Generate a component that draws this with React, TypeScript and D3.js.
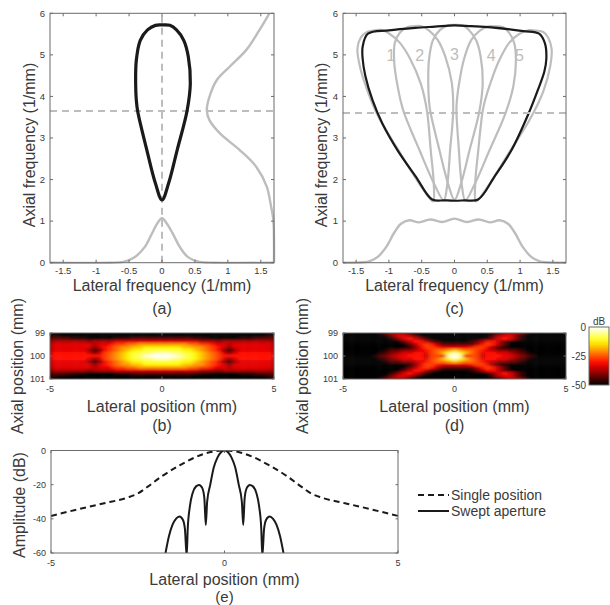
import React from "react";
import * as d3 from "d3";

type Pt = [number, number];

// (a) single transmit position: k-space support outline (lateral, axial) in 1/mm
const singleOutline: Pt[] = [
  [0.0, 1.51], [0.1, 1.91], [0.23, 2.71], [0.38, 3.65], [0.43, 4.31], [0.4, 4.95],
  [0.33, 5.35], [0.22, 5.6], [0.12, 5.71], [0.0, 5.72], [-0.1, 5.71], [-0.22, 5.6],
  [-0.33, 5.35], [-0.39, 4.87], [-0.4, 4.31], [-0.39, 3.91], [-0.37, 3.65], [-0.23, 2.71],
  [-0.1, 1.91],
];
// lateral profile drawn along the bottom (lateral, amplitude)
const singleLateralProfile: Pt[] = [
  [-1.7, 0], [-0.8, 0], [-0.59, 0.02], [-0.41, 0.14], [-0.26, 0.38], [-0.15, 0.71],
  [-0.07, 0.95], [0, 1.07], [0.07, 0.95], [0.16, 0.71], [0.27, 0.38], [0.39, 0.14],
  [0.57, 0.02], [0.8, 0], [1.7, 0],
];
// axial profile drawn along the right side (lateral, axial)
const singleAxialProfile: Pt[] = [
  [1.7, 0], [1.7, 0.5], [1.69, 1.03], [1.65, 1.4], [1.59, 1.83], [1.43, 2.31],
  [1.18, 2.71], [0.88, 3.11], [0.72, 3.43], [0.68, 3.67], [0.72, 3.99], [0.83, 4.39],
  [1.03, 4.72], [1.28, 5.12], [1.48, 5.6], [1.63, 6.0],
];
const singleCutAxial = 3.65;

// (c) swept aperture: steering angles (deg) of the five sub-apertures
const steerAngles = [-12.5, -6.25, 0, 6.25, 12.5];
const steerLabels = ["1", "2", "3", "4", "5"];
const steerLabelPos: Pt[] = [[-0.97, 4.99], [-0.53, 4.99], [0, 5.03], [0.56, 4.99], [0.99, 4.99]];
const sweptOutline: Pt[] = [
  [-0.34, 1.52], [-0.15, 1.5], [0, 1.49], [0.15, 1.5], [0.36, 1.52], [0.61, 2.07],
  [0.87, 2.71], [1.13, 3.59], [1.27, 4.15], [1.37, 4.6], [1.4, 4.9], [1.38, 5.27],
  [1.29, 5.51], [1.05, 5.57], [0.56, 5.66], [0.25, 5.69], [0, 5.71], [-0.3, 5.68],
  [-0.6, 5.65], [-1.0, 5.59], [-1.32, 5.51], [-1.4, 5.2], [-1.4, 4.9], [-1.36, 4.5],
  [-1.25, 3.91], [-1.1, 3.35], [-0.87, 2.71], [-0.59, 2.07],
];
const sweptLateralProfile: Pt[] = [
  [-1.7, 0], [-1.4, 0.01], [-1.29, 0.04], [-1.17, 0.14], [-1.04, 0.38], [-0.92, 0.72],
  [-0.82, 0.93], [-0.69, 1.02], [-0.54, 0.97], [-0.37, 1.04], [-0.19, 0.98], [0, 1.06],
  [0.19, 0.98], [0.37, 1.04], [0.54, 0.97], [0.69, 1.02], [0.82, 0.93], [0.92, 0.72],
  [1.04, 0.38], [1.17, 0.14], [1.29, 0.04], [1.4, 0.01], [1.7, 0],
];
const sweptCutAxial = 3.6;

const freqTicks = [-1.5, -1, -0.5, 0, 0.5, 1, 1.5];
const axialFreqTicks = [0, 1, 2, 3, 4, 5, 6];

// (b), (d) point spread functions, dB levels in hex 0 (-50 dB) .. f (0 dB)
// columns: lateral -5..5 mm, rows: axial 99..101 mm
const psfSingleRows = [
  "00000000000000000000000000000000000000000",
  "11000000000000000000000000000000000000011",
  "22221110000011122222222222111000001112222",
  "34444443444455555555555555544434444444443",
  "45555555455677889999999998877655455555554",
  "455555553567899aabbbbbbbaa998765355555554",
  "45555553136789abbcccccccbba98763135555554",
  "5666666535789abccddeeeddccba9875356666665",
  "5666666666789abcdefffffedcba9876666666665",
  "5666666535789abccddeeeddccba9875356666665",
  "45555553136789abbcccccccbba98763135555554",
  "455555553567899aabbbbbbbaa998765355555554",
  "45555555455677889999999998877655455555554",
  "34444443444455555555555555544434444444443",
  "22221110000011122222222222111000001112222",
  "11000000000000000000000000000000000000011",
  "00000000000000000000000000000000000000000",
];
const psfSweptRows = [
  "00000001344310000000000000001344310000000",
  "00000000135542000000000000024553100000000",
  "00000000013565310000000000135653100000000",
  "00000000000246642100000124664200000000000",
  "00000000000024676422222246764200000000000",
  "00000000000013577655555677531000000000000",
  "00000000122334567889a98876543322100000000",
  "000000012345566578aceca875665543210000000",
  "0000001234556664775efe5774666554321000000",
  "000000012345566578aceca875665543210000000",
  "00000000122334567889a98876543322100000000",
  "00000000000013577655555677531000000000000",
  "00000000000024676422222246764200000000000",
  "00000000000246642100000124664200000000000",
  "00000000013565310000000000135653100000000",
  "00000000135542000000000000024553100000000",
  "00000001344310000000000000001344310000000",
];
const dbTicks = [0, -25, -50];
const posTicks = [-5, 0, 5];
const axialPosTicks = [99, 100, 101];

// (e) lateral beam profiles (mm, dB)
const beamSingle: Pt[] = [
  [-5, -38.3], [-4.3, -34.8], [-3.5, -31], [-2.8, -27.6], [-2.5, -25.2], [-2.2, -21],
  [-1.8, -15], [-1.3, -8.8], [-0.8, -3.6], [-0.4, -0.9], [0, 0], [0.4, -0.9], [0.8, -3.6],
  [1.3, -8.8], [1.8, -15], [2.2, -21], [2.5, -25.2], [2.8, -27.6], [3.5, -31], [4.3, -34.8],
  [5, -38.3],
];
const beamSwept: Pt[] = [
  [-1.7, -60], [-1.6, -50], [-1.5, -43.5], [-1.4, -40], [-1.3, -38.6], [-1.2, -40.5],
  [-1.14, -46], [-1.09, -62], [-1.06, -46], [-1.0, -33], [-0.92, -25], [-0.82, -21],
  [-0.73, -20.2], [-0.64, -22], [-0.58, -28], [-0.54, -43.6], [-0.5, -30], [-0.41, -20],
  [-0.31, -10], [-0.2, -4], [-0.1, -1], [0, 0], [0.1, -1], [0.2, -4], [0.31, -10],
  [0.41, -20], [0.5, -30], [0.54, -43.6], [0.58, -28], [0.64, -22], [0.73, -20.2],
  [0.82, -21], [0.92, -25], [1.0, -33], [1.06, -46], [1.09, -62], [1.14, -46], [1.2, -40.5],
  [1.3, -38.6], [1.4, -40], [1.5, -43.5], [1.6, -50], [1.7, -60],
];
const ampTicks = [0, -20, -40, -60];
const legendItems = [
  { label: "Single position", dash: "6 4" },
  { label: "Swept aperture", dash: "none" },
];

const FONT = "'Liberation Sans', Arial, Helvetica, sans-serif";
const AXIS = "#6b6b6b";
const TXT = "#3a3a3a";
const GRAY = "#bdbdbd";
const BLACK = "#1a1a1a";

const hot = d3
  .scaleLinear<string>()
  .domain([-50, -31.25, -12.5, 0])
  .range(["#000000", "#ff0000", "#ffff00", "#ffffff"])
  .clamp(true);
const levelDb = (c: string) => -50 + (parseInt(c, 16) * 50) / 15;

// scales
const aX = d3.scaleLinear().domain([-1.7, 1.7]).range([50, 274]);
const aY = d3.scaleLinear().domain([0, 6]).range([262.7, 13.3]);
const cX = d3.scaleLinear().domain([-1.7, 1.7]).range([343, 566]);
const bX = d3.scaleLinear().domain([-5, 5]).range([50, 274]);
const dX = d3.scaleLinear().domain([-5, 5]).range([343, 566]);
const pY = d3.scaleLinear().domain([99, 101]).range([333, 379]);
const cbY = d3.scaleLinear().domain([-50, 0]).range([385, 327]);
const eX = d3.scaleLinear().domain([-5, 5]).range([51, 398]);
const eY = d3.scaleLinear().domain([-60, 0]).range([553, 450.5]);

function Frame({ x, y, xTicks, yTicks, tick, fs, xOff }: any) {
  const [l, r] = x.range();
  const t = Math.min(...y.range());
  const b = Math.max(...y.range());
  return (
    <g fontFamily={FONT} fontSize={fs} fill={TXT}>
      <rect x={l} y={t} width={r - l} height={b - t} fill="none" stroke={AXIS} strokeWidth={1} />
      {xTicks.map((v: number) => (
        <g key={"x" + v}>
          <line x1={x(v)} x2={x(v)} y1={b} y2={b - tick} stroke={AXIS} />
          <line x1={x(v)} x2={x(v)} y1={t} y2={t + tick} stroke={AXIS} />
          <text x={x(v)} y={b + xOff} textAnchor="middle">{String(v)}</text>
        </g>
      ))}
      {yTicks.map((v: number) => (
        <g key={"y" + v}>
          <line x1={l} x2={l + tick} y1={y(v)} y2={y(v)} stroke={AXIS} />
          <line x1={r} x2={r - tick} y1={y(v)} y2={y(v)} stroke={AXIS} />
          <text x={l - 5} y={y(v) + fs * 0.35} textAnchor="end">{String(v)}</text>
        </g>
      ))}
    </g>
  );
}

function Heat({ rows, x, id }: { rows: string[]; x: any; id: string }) {
  const nx = rows[0].length;
  const ny = rows.length;
  const lat = d3.range(nx).map((j) => -5 + (10 * j) / (nx - 1));
  const ax = d3.range(ny).map((i) => 99 + (2 * i) / (ny - 1));
  const hx = 10 / (nx - 1) / 2;
  const hy = 2 / (ny - 1) / 2;
  const [l, r] = x.range();
  const [t, b] = pY.range();
  return (
    <g>
      <defs>
        <clipPath id={id + "c"}>
          <rect x={l} y={t} width={r - l} height={b - t} />
        </clipPath>
        <filter id={id + "f"} x="-10%" y="-30%" width="120%" height="160%">
          <feGaussianBlur stdDeviation="2.2 1.1" />
        </filter>
      </defs>
      <g clipPath={`url(#${id}c)`}>
        <g filter={`url(#${id}f)`}>
          {rows.map((row, i) =>
            row.split("").map((ch, j) => {
              const x0 = j === 0 ? l - 10 : x(lat[j] - hx);
              const x1 = j === nx - 1 ? r + 10 : x(lat[j] + hx);
              const y0 = i === 0 ? t - 8 : pY(ax[i] - hy);
              const y1 = i === ny - 1 ? b + 8 : pY(ax[i] + hy);
              return (
                <rect key={i + "-" + j} x={x0} y={y0} width={x1 - x0 + 0.4} height={y1 - y0 + 0.4}
                  fill={hot(levelDb(ch))} />
              );
            })
          )}
        </g>
      </g>
    </g>
  );
}

export default function App() {
  const rot = (deg: number): Pt[] => {
    const th = (deg * Math.PI) / 180;
    return singleOutline.map(([u, v]) => [
      u * Math.cos(th) + v * Math.sin(th),
      -u * Math.sin(th) + v * Math.cos(th),
    ]);
  };
  const closed = (sx: any) =>
    d3.line<Pt>().x((d) => sx(d[0])).y((d) => aY(d[1])).curve(d3.curveCatmullRomClosed.alpha(0.5));
  const open = (sx: any) =>
    d3.line<Pt>().x((d) => sx(d[0])).y((d) => aY(d[1])).curve(d3.curveCatmullRom.alpha(0.5));
  const beam = d3.line<Pt>().x((d) => eX(d[0])).y((d) => eY(d[1])).curve(d3.curveMonotoneX);

  const cbStops = d3.range(0, 11).map((k) => -50 + k * 5);

  return (
    <svg width={610} height={605} style={{ position: "absolute", left: 0, top: 0, background: "#fff" }}>
      {/* (a) */}
      <g fill="none">
        <path d={open(aX)(singleLateralProfile) || ""} stroke={GRAY} strokeWidth={2.4} />
        <path d={open(aX)(singleAxialProfile) || ""} stroke={GRAY} strokeWidth={2.4} />
        <line x1={aX(0)} x2={aX(0)} y1={aY(0)} y2={aY(6)} stroke={GRAY} strokeWidth={2} strokeDasharray="7 5" />
        <line x1={aX(-1.7)} x2={aX(1.7)} y1={aY(singleCutAxial)} y2={aY(singleCutAxial)} stroke={GRAY}
          strokeWidth={2} strokeDasharray="7 5" />
        <path d={closed(aX)(singleOutline) || ""} stroke={BLACK} strokeWidth={3.2} />
      </g>
      <Frame x={aX} y={aY} xTicks={freqTicks} yTicks={axialFreqTicks} tick={3} fs={9.5} xOff={11.5} />

      {/* (c) */}
      <g fill="none">
        <path d={open(cX)(sweptLateralProfile) || ""} stroke={GRAY} strokeWidth={2.4} />
        {steerAngles.map((a) => (
          <path key={a} d={closed(cX)(rot(a)) || ""} stroke={GRAY} strokeWidth={2.2} />
        ))}
        <path d={closed(cX)(sweptOutline) || ""} stroke={BLACK} strokeWidth={2.2} />
        <line x1={cX(-1.7)} x2={cX(1.7)} y1={aY(sweptCutAxial)} y2={aY(sweptCutAxial)} stroke={GRAY}
          strokeWidth={2} strokeDasharray="7 5" />
      </g>
      {steerLabels.map((s, i) => (
        <text key={s} x={cX(steerLabelPos[i][0])} y={aY(steerLabelPos[i][1]) + 6} textAnchor="middle"
          fontFamily={FONT} fontSize={16} fill={GRAY}>{s}</text>
      ))}
      <Frame x={cX} y={aY} xTicks={freqTicks} yTicks={axialFreqTicks} tick={3} fs={9.5} xOff={11.5} />

      {/* (b), (d) */}
      <Heat rows={psfSingleRows} x={bX} id="hb" />
      <Frame x={bX} y={pY} xTicks={posTicks} yTicks={axialPosTicks} tick={2.5} fs={9} xOff={13} />
      <Heat rows={psfSweptRows} x={dX} id="hd" />
      <Frame x={dX} y={pY} xTicks={posTicks} yTicks={axialPosTicks} tick={2.5} fs={9} xOff={13} />

      {/* colour bar */}
      <defs>
        <linearGradient id="cbar" x1="0" y1="1" x2="0" y2="0">
          {cbStops.map((v) => (
            <stop key={v} offset={(v + 50) / 50} stopColor={hot(v)} />
          ))}
        </linearGradient>
      </defs>
      <rect x={589} y={cbY(0)} width={20} height={cbY(-50) - cbY(0)} fill="url(#cbar)" stroke={AXIS} />
      <g fontFamily={FONT} fontSize={10} fill={TXT}>
        {dbTicks.map((v) => (
          <text key={v} x={586} y={cbY(v) + 3.5} textAnchor="end">{String(v)}</text>
        ))}
        <text x={599} y={324.5} textAnchor="middle">dB</text>
      </g>

      {/* (e) */}
      <defs>
        <clipPath id="ec">
          <rect x={51} y={450.5} width={347} height={102.5} />
        </clipPath>
      </defs>
      <g clipPath="url(#ec)" fill="none" stroke={BLACK} strokeWidth={2}>
        <path d={beam(beamSingle) || ""} strokeDasharray={legendItems[0].dash} />
        <path d={beam(beamSwept) || ""} />
      </g>
      <Frame x={eX} y={eY} xTicks={posTicks} yTicks={ampTicks} tick={2.5} fs={9} xOff={13} />
      {legendItems.map((it, i) => (
        <g key={it.label}>
          <line x1={418} x2={449} y1={495 + i * 16} y2={495 + i * 16} stroke={BLACK} strokeWidth={2}
            strokeDasharray={it.dash} />
          <text x={451} y={500 + i * 16} fontFamily={FONT} fontSize={14} fill={TXT}>{it.label}</text>
        </g>
      ))}

      {/* titles and axis labels */}
      <g fontFamily={FONT} fontSize={16} fill={TXT} textAnchor="middle">
        <text transform="translate(35,145) rotate(-90)">Axial frequency (1/mm)</text>
        <text transform="translate(327,145) rotate(-90)">Axial frequency (1/mm)</text>
        <text x={162} y={291}>Lateral frequency (1/mm)</text>
        <text x={454.5} y={291}>Lateral frequency (1/mm)</text>
        <text x={162} y={314}>(a)</text>
        <text x={454.5} y={314}>(c)</text>
        <text transform="translate(23,366) rotate(-90)">Axial position (mm)</text>
        <text transform="translate(308,366) rotate(-90)">Axial position (mm)</text>
        <text x={162} y={412}>Lateral position (mm)</text>
        <text x={454.5} y={412}>Lateral position (mm)</text>
        <text x={162} y={431}>(b)</text>
        <text x={454.5} y={431}>(d)</text>
        <text transform="translate(25,505) rotate(-90)">Amplitude (dB)</text>
        <text x={224.5} y={585}>Lateral position (mm)</text>
        <text x={224.5} y={602} fontSize={15}>(e)</text>
      </g>
    </svg>
  );
}
